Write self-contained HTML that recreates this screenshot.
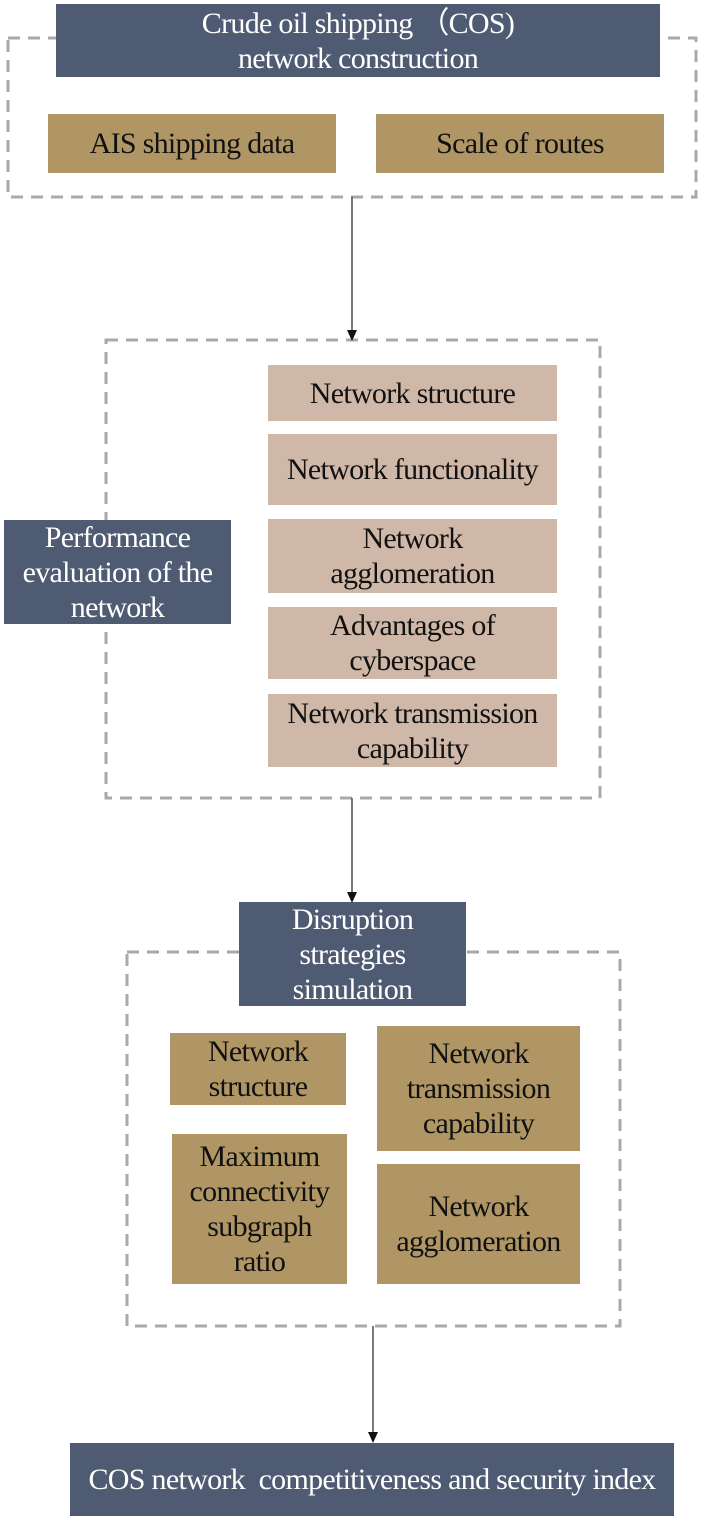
<!DOCTYPE html>
<html><head><meta charset="utf-8"><style>
body{margin:0;width:702px;height:1520px;background:#fff;position:relative;overflow:hidden;font-family:"Liberation Serif",serif;}
.b{position:absolute;display:flex;align-items:center;justify-content:center;text-align:center;font-size:30px;line-height:35px;box-sizing:border-box;letter-spacing:-0.7px;white-space:nowrap}
.d{background:#4f5b72;color:#fff}
.g{background:#b09664;color:#111}
.p{background:#d0b8a8;color:#111}
svg{position:absolute;left:0;top:0}
</style></head><body>
<svg width="702" height="1520">
<g fill="none" stroke="#a9a9a9" stroke-width="3" stroke-dasharray="12 8">
<rect x="8" y="38" width="688" height="159"/>
<rect x="106" y="340" width="494" height="458"/>
<rect x="127" y="952" width="493" height="374"/>
</g>
<g stroke="#333" stroke-width="1.3">
<line x1="352" y1="197" x2="352" y2="332"/>
<line x1="352" y1="798" x2="352" y2="894"/>
<line x1="373" y1="1326" x2="373" y2="1434"/>
</g>
<g fill="#111">
<polygon points="347,330 357,330 352,341"/>
<polygon points="347,892 357,892 352,903"/>
<polygon points="368,1432 378,1432 373,1443"/>
</g>
</svg>
<div class="b d" style="left:56px;top:4px;width:604px;height:73px">Crude oil shipping （COS)<br>network construction</div>
<div class="b g" style="left:48px;top:114px;width:288px;height:59px">AIS shipping data</div>
<div class="b g" style="left:376px;top:114px;width:288px;height:59px">Scale of routes</div>
<div class="b p" style="left:268px;top:365px;width:289px;height:56px">Network structure</div>
<div class="b p" style="left:268px;top:434px;width:289px;height:71px">Network functionality</div>
<div class="b p" style="left:268px;top:519px;width:289px;height:74px">Network<br>agglomeration</div>
<div class="b p" style="left:268px;top:607px;width:289px;height:72px">Advantages of<br>cyberspace</div>
<div class="b p" style="left:268px;top:694px;width:289px;height:73px">Network transmission<br>capability</div>
<div class="b d" style="left:4px;top:520px;width:227px;height:104px">Performance<br>evaluation of the<br>network</div>
<div class="b d" style="left:239px;top:902px;width:227px;height:104px">Disruption<br>strategies<br>simulation</div>
<div class="b g" style="left:170px;top:1033px;width:176px;height:72px">Network<br>structure</div>
<div class="b g" style="left:172px;top:1134px;width:175px;height:150px">Maximum<br>connectivity<br>subgraph<br>ratio</div>
<div class="b g" style="left:377px;top:1026px;width:203px;height:125px">Network<br>transmission<br>capability</div>
<div class="b g" style="left:377px;top:1164px;width:203px;height:120px">Network<br>agglomeration</div>
<div class="b d" style="left:70px;top:1443px;width:604px;height:73px">COS network&nbsp; competitiveness and security index</div>
</body></html>
